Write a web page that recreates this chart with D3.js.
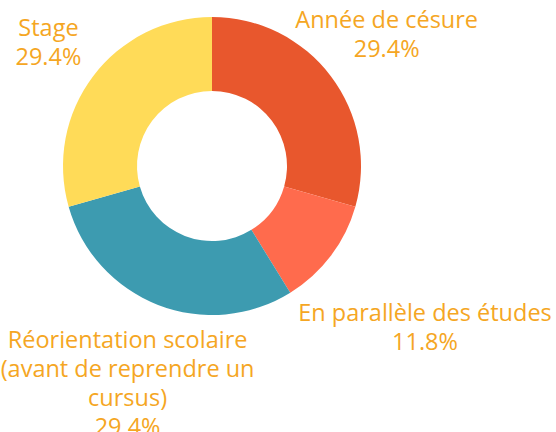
<!DOCTYPE html>
<html>
<head>
<meta charset="utf-8">
<script src="https://cdn.jsdelivr.net/npm/d3@7"></script>
<style>
  body { margin: 0; background: #fff; }
  svg text { font-family: "Open Sans", sans-serif; font-size: 23.5px; font-weight: 500; fill: #F5A623; }
</style>
</head>
<body>
<div id="chart"></div>
<script>
// data
var categories = ["Année de césure", "En parallèle des études", "Réorientation scolaire (avant de reprendre un cursus)", "Stage"];
var values = [29.4, 11.8, 29.4, 29.4];
var labelLines = [
  ["Année de césure"],
  ["En parallèle des études"],
  ["Réorientation scolaire", "(avant de reprendre un", "cursus)"],
  ["Stage"]
];
var colours = ["#E8572D", "#FF6B4D", "#3D9BB0", "#FFDB58"];

var svgWidth = 556, svgHeight = 432;
var cx = 212, cy = 166, outerR = 149, innerR = 75;
// distance of each label's centre from the middle of the donut
var labelR = [219, 267, 233, 205];
var lineH = 29;

var svg = d3.select("#chart").append("svg")
  .attr("width", svgWidth).attr("height", svgHeight);

var g = svg.append("g").attr("transform", "translate(" + cx + "," + cy + ")");

var pie = d3.pie().sort(null).value(function(d) { return d; });
var arcs = pie(values);
var arc = d3.arc().innerRadius(innerR).outerRadius(outerR);

g.selectAll("path").data(arcs).enter().append("path")
  .attr("d", arc)
  .attr("fill", function(d, i) { return colours[i]; });

arcs.forEach(function(d, i) {
  var a = (d.startAngle + d.endAngle) / 2;
  var x = Math.sin(a) * labelR[i];
  var y = -Math.cos(a) * labelR[i];
  var lines = labelLines[i].concat([d3.format(".1f")(values[i]) + "%"]);
  var top = y - (lines.length - 1) * lineH / 2;
  var t = g.append("text").attr("text-anchor", "middle");
  lines.forEach(function(l, j) {
    t.append("tspan")
      .attr("x", x)
      .attr("y", top + j * lineH)
      .attr("dy", ".35em")
      .text(l);
  });
});
</script>
</body>
</html>
